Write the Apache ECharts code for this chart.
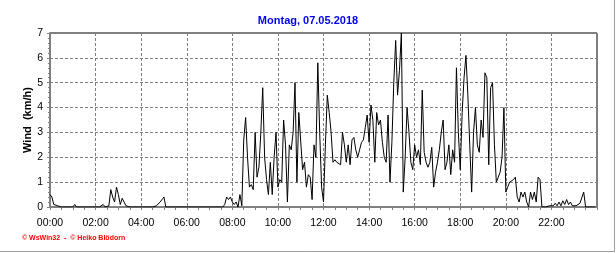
<!DOCTYPE html>
<html>
<head>
<meta charset="utf-8">
<script src="https://cdn.jsdelivr.net/npm/echarts@6/dist/echarts.min.js"></script>
<style>
  html, body { margin: 0; padding: 0; background: #fff; }
  #chart { width: 616px; height: 253px; }
</style>
</head>
<body>
<div id="chart"></div>
<script>
// Title and labels
const titleText = 'Montag, 07.05.2018';
const yAxisName = 'Wind  (km/h)';
const footerText = '\u00A9 WsWin32  -  \u00A9 Heiko Bl\u00F6dorn';

// Sampling step (minutes) of the wind readings
const stepMinutes = 5;

// Wind speed (km/h), one row per hour, 5-minute readings
const windKmh = [
  0.5,0.4,0.1,0.1,0.05,0,0,0,0,0,0,0,            // 00
  0,0.1,0,0,0,0,0,0,0,0,0,0,                     // 01
  0,0,0,0,0.1,0,0,0.05,0.7,0.4,0.2,0.8,          // 02
  0.5,0.1,0.35,0.2,0.05,0,0,0,0,0,0,0,           // 03
  0,0,0,0,0,0,0,0,0.05,0.1,0.2,0.3,              // 04
  0.4,0,0,0,0,0,0,0,0,0,0,0,                     // 05
  0,0,0,0,0,0,0,0,0,0,0,0,                       // 06
  0,0,0,0,0,0,0,0,0.1,0.4,0.3,0.4,               // 07
  0.2,0.1,0.2,0,0.5,0.05,2.7,3.6,2.0,0.8,0.9,0.7, // 08
  3.0,1.2,1.6,3.0,4.8,2.0,1.1,0.5,1.8,0.5,2.0,3.0, // 09
  0.8,1.1,1.0,3.5,2.5,0.2,2.5,2.3,3.0,5.0,1.0,3.8, // 10
  3.8,1.5,1.8,0.8,1.3,1.2,0.3,2.5,2.0,5.8,3.0,0.8, // 11
  0.2,2.5,4.5,3.8,3.0,1.8,1.9,1.8,1.8,1.7,3.0,2.5, // 12
  1.8,2.5,1.7,2.7,2.8,2.3,2.0,2.3,2.6,2.7,3.2,3.7, // 13
  2.6,4.1,3.5,1.8,3.8,3.3,3.5,2.6,2.0,1.8,3.7,1.0, // 14
  2.6,5.0,6.7,4.5,5.5,7.0,0.6,2.0,4.0,3.0,1.8,1.5, // 15
  2.5,2.0,2.3,1.7,4.7,2.2,1.8,1.6,1.8,2.4,0.8,1.4, // 16
  1.8,2.3,3.0,3.5,1.5,1.8,2.5,1.3,2.3,1.8,5.6,3.0, // 17
  1.5,3.8,5.2,6.1,4.5,2.5,0.6,3.0,4.0,2.5,2.2,3.5, // 18
  2.8,5.4,5.2,1.7,4.8,5.0,2.5,1.0,1.2,1.4,2.0,4.0, // 19
  0.6,0.8,1.0,1.0,1.1,1.2,0.4,0.2,0.6,0.4,0.6,0.2, // 20
  0.0,0.6,0.3,0.6,0.2,1.2,1.1,0,0,0,0,0.05,      // 21
  0.1,0.05,0.15,0.05,0.2,0.05,0.25,0.1,0.3,0.1,0.2,0.05, // 22
  0.1,0.05,0.1,0.15,0.1,0.6,0,0,0,0,0,0          // 23
];

// Axis ranges / ticks
const xMinMinutes = 0, xMaxMinutes = 1440, xTickMinutes = 120;
const yMin = 0, yMax = 7, yTick = 1;

const seriesData = windKmh.map((v, i) => [i * stepMinutes, v]);
const pad = n => (n < 10 ? '0' : '') + n;

const chart = echarts.init(document.getElementById('chart'), null, { renderer: 'canvas' });
const font = 'Liberation Sans, Arial, sans-serif';

chart.setOption({
  animation: false,
  backgroundColor: '#ffffff',
  title: {
    text: titleText,
    left: 'center',
    top: 10,
    textStyle: { color: '#0000ee', fontSize: 11, fontWeight: 'bold', fontFamily: font }
  },
  grid: {
    left: 50, right: 19, top: 33, bottom: 46,
    show: true, borderColor: '#000000', borderWidth: 1, backgroundColor: '#ffffff'
  },
  xAxis: {
    type: 'value',
    min: xMinMinutes, max: xMaxMinutes, interval: xTickMinutes,
    axisLine: { show: true, lineStyle: { color: '#808080', width: 2 } },
    axisTick: { show: true, length: 3, lineStyle: { color: '#808080' } },
    minorTick: { show: true, splitNumber: 4, length: 3, lineStyle: { color: '#808080' } },
    splitLine: { show: true, lineStyle: { color: '#808080', type: [3, 2], width: 1 } },
    axisLabel: {
      color: '#000', fontSize: 10.5, fontFamily: font, margin: 11,
      showMaxLabel: false,
      formatter: v => pad(Math.floor(v / 60)) + ':' + pad(v % 60)
    }
  },
  yAxis: {
    type: 'value',
    min: yMin, max: yMax, interval: yTick,
    name: yAxisName,
    nameLocation: 'middle',
    nameGap: 17,
    nameMoveOverlap: false,
    nameTextStyle: { color: '#000', fontSize: 11, fontWeight: 'bold', fontFamily: font },
    axisLine: { show: true, lineStyle: { color: '#808080', width: 2 } },
    axisTick: { show: true, length: 3, lineStyle: { color: '#808080' } },
    minorTick: { show: true, splitNumber: 5, length: 2, lineStyle: { color: '#808080' } },
    splitLine: { show: true, lineStyle: { color: '#808080', type: [3, 2], width: 1 } },
    axisLabel: { color: '#000', fontSize: 10.5, fontFamily: font, margin: 7 }
  },
  series: [{
    type: 'line',
    data: seriesData,
    showSymbol: false,
    symbol: 'none',
    lineStyle: { color: '#000000', width: 1 },
    clip: true
  }],
  graphic: [
    {
      type: 'text', left: 22, top: 235,
      style: { text: footerText, fill: '#ff0000', font: 'bold 7px ' + font }
    },
    {
      type: 'line', shape: { x1: 614.5, y1: 0, x2: 614.5, y2: 252 },
      style: { stroke: '#a0a0a0', lineWidth: 1 }
    },
    {
      type: 'line', shape: { x1: 0, y1: 251.5, x2: 615, y2: 251.5 },
      style: { stroke: '#a0a0a0', lineWidth: 1 }
    }
  ]
});
</script>
</body>
</html>
